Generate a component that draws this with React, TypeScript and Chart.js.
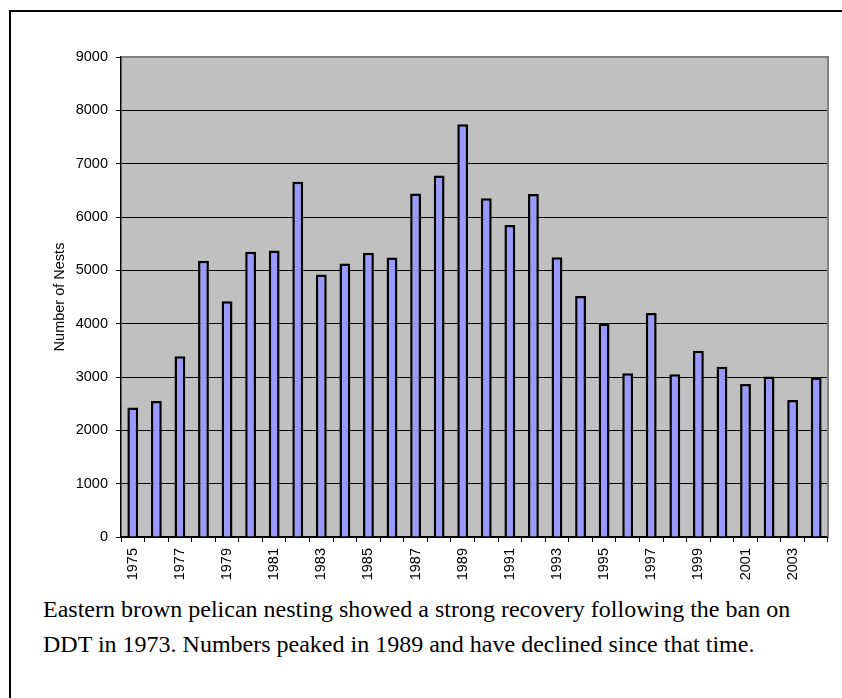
import React, { useEffect, useRef } from 'react';
import { Chart, registerables } from 'chart.js';

Chart.register(...registerables);

const years = [
  '1975', '1976', '1977', '1978', '1979', '1980', '1981', '1982', '1983', '1984',
  '1985', '1986', '1987', '1988', '1989', '1990', '1991', '1992', '1993', '1994',
  '1995', '1996', '1997', '1998', '1999', '2000', '2001', '2002', '2003', '2004',
];
const nests = [
  2430, 2550, 3390, 5180, 4420, 5350, 5370, 6660, 4920, 5130,
  5330, 5240, 6440, 6780, 7740, 6350, 5850, 6430, 5245, 4520,
  4000, 3070, 4200, 3050, 3490, 3190, 2870, 3010, 2570, 2990,
];
const yMin = 0;
const yMax = 9000;
const yStep = 1000;
const yTitle = 'Number of Nests';
const caption =
  'Eastern brown pelican nesting showed a strong recovery following the ban on DDT in 1973. Numbers peaked in 1989 and have declined since that time.';

const AXIS_FONT = { family: '"Liberation Sans", Arial, sans-serif', size: 14.5 };

const plotArea = {
  id: 'plotArea',
  beforeDraw(chart: any) {
    const { ctx, chartArea } = chart;
    const { left, top, right, bottom } = chartArea;
    ctx.save();
    ctx.fillStyle = '#C0C0C0';
    ctx.fillRect(left, top, right - left, bottom - top);
    ctx.restore();
  },
  afterDraw(chart: any) {
    const { ctx, chartArea } = chart;
    const { left, top, right, bottom } = chartArea;
    ctx.save();
    ctx.strokeStyle = '#808080';
    ctx.lineWidth = 2;
    ctx.beginPath();
    ctx.moveTo(left + 1, top);
    ctx.lineTo(right, top);
    ctx.lineTo(right, bottom);
    ctx.stroke();
    ctx.restore();
  },
};

export default function App() {
  const ref = useRef<HTMLCanvasElement | null>(null);

  useEffect(() => {
    if (!ref.current) return;
    const chart = new Chart(ref.current, {
      type: 'bar',
      data: {
        labels: years,
        datasets: [
          {
            data: nests,
            backgroundColor: '#9999FF',
            borderColor: '#000000',
            borderWidth: 2.5,
            barPercentage: 0.46,
            categoryPercentage: 1,
          },
        ],
      },
      options: {
        responsive: false,
        animation: false,
        devicePixelRatio: 1,
        layout: { padding: { top: 57, left: 0, right: 14, bottom: 0 } },
        plugins: { legend: { display: false }, tooltip: { enabled: false } },
        scales: {
          x: {
            afterFit: (s: any) => {
              s.height = 53;
            },
            grid: {
              display: true,
              drawOnChartArea: false,
              drawTicks: true,
              tickLength: 5,
              color: '#000',
              offset: true,
            },
            border: { display: true, color: '#000', width: 1.5 },
            ticks: {
              autoSkip: false,
              minRotation: 90,
              maxRotation: 90,
              padding: 6,
              color: '#000',
              font: AXIS_FONT,
              callback: (_v: any, i: number) => (i % 2 === 0 ? years[i] : ''),
            },
          },
          y: {
            min: yMin,
            max: yMax,
            afterFit: (s: any) => {
              s.width = 121;
            },
            grid: {
              color: '#000',
              lineWidth: 1,
              tickLength: 5,
              drawTicks: true,
            },
            border: { display: true, color: '#000', width: 1.5 },
            ticks: {
              stepSize: yStep,
              padding: 8,
              color: '#000',
              font: AXIS_FONT,
              callback: (v: any) => String(v),
            },
            title: {
              display: true,
              text: yTitle,
              color: '#000',
              font: AXIS_FONT,
              padding: { top: 51, bottom: 0 },
            },
          },
        },
      },
      plugins: [plotArea],
    });
    return () => chart.destroy();
  }, []);

  return (
    <div
      style={{
        position: 'fixed',
        left: 0,
        top: 0,
        width: 842,
        height: 698,
        overflow: 'hidden',
        background: '#fff',
      }}
    >
      <div
        style={{
          position: 'absolute',
          left: 9,
          top: 10,
          right: 0,
          bottom: 0,
          borderLeft: '2px solid #000',
          borderTop: '2px solid #000',
        }}
      />
      <canvas
        ref={ref}
        width={842}
        height={590}
        style={{ position: 'absolute', left: 0, top: 0, width: 842, height: 590 }}
      />
      <div
        style={{
          position: 'absolute',
          left: 43,
          top: 592,
          width: 770,
          fontFamily: '"Liberation Serif", "Times New Roman", serif',
          fontSize: 24,
          lineHeight: '35px',
          color: '#000',
        }}
      >
        {caption}
      </div>
    </div>
  );
}
